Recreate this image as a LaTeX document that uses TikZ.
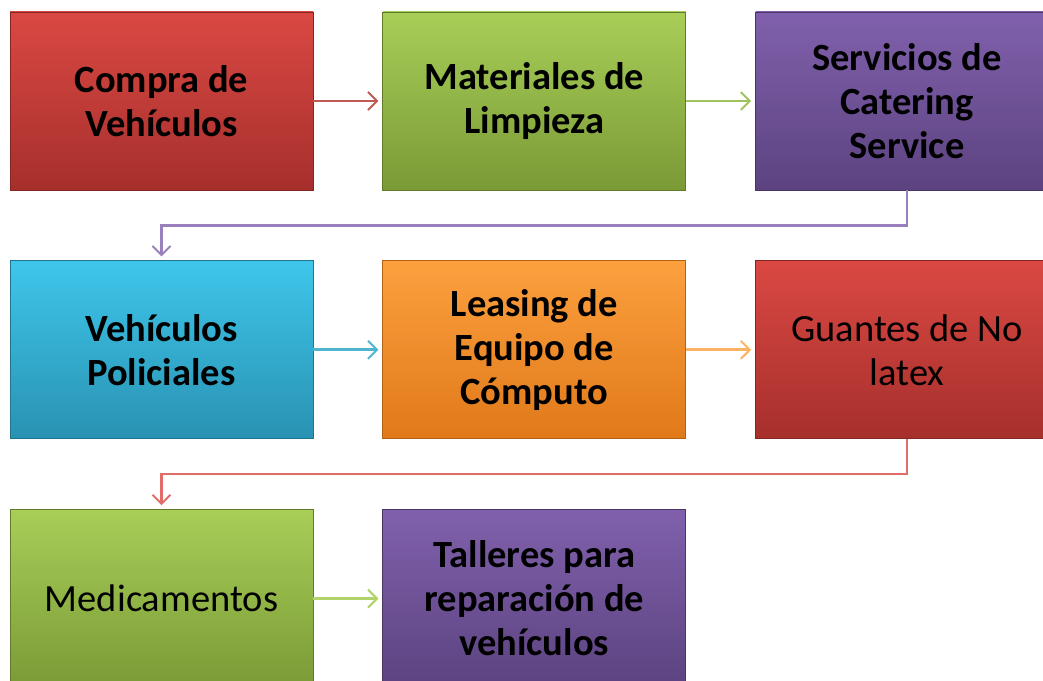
\documentclass[tikz,border=0pt]{standalone}
\usepackage{fontspec}
\setmainfont{Carlito}
\usetikzlibrary{positioning, calc, arrows.meta}
\definecolor{redTop}{HTML}{DA4843}
\definecolor{redBot}{HTML}{A62F2C}
\definecolor{greenTop}{HTML}{A8CE58}
\definecolor{greenBot}{HTML}{7A9A36}
\definecolor{purpleTop}{HTML}{8060AC}
\definecolor{purpleBot}{HTML}{5C4380}
\definecolor{cyanTop}{HTML}{3EC6EA}
\definecolor{cyanBot}{HTML}{2992B2}
\definecolor{orangeTop}{HTML}{FCA03E}
\definecolor{orangeBot}{HTML}{E0791A}
\tikzset{
    stage/.style={minimum width=303pt, minimum height=178pt, text width=285pt, align=flush center,
        inner sep=0pt, font=\fontsize{38.5}{44}\selectfont, text=black,
        top color=#1Top, bottom color=#1Bot, draw=#1Bot!80!black, line width=0.8pt},
    stage/.default=red,
    link/.style={draw=#1, line width=2.6pt, -{Straight Barb[length=9pt, width=18pt, line width=2pt]}, shorten >=4pt},
    link/.default=red
}

\begin{document}
\begin{tikzpicture}[x=1pt, y=1pt]
        \useasboundingbox (0,0) rectangle (1043,680);
        \clip (0,0) rectangle (1043,680);
        %Row 1
        \node[stage=red] (compra) at (161.5,579) {\bfseries Compra de\\Vehículos};
        \node[stage=green, right=69pt of compra] (limpieza) {\bfseries Materiales de\\Limpieza};
        \node[stage=purple, right=69pt of limpieza] (catering) {\bfseries Servicios de\\Catering\\Service};
        %Row 2
        \node[stage=cyan, below=70pt of compra] (policiales) {\bfseries Vehículos\\Policiales};
        \node[stage=orange, right=69pt of policiales] (leasing) {\bfseries Leasing de\\Equipo de\\Cómputo};
        \node[stage=red, right=69pt of leasing] (guantes) {Guantes de No\\latex};
        %Row 3
        \node[stage=green, below=70pt of policiales] (medic) {Medicamentos};
        \node[stage=purple, right=69pt of medic] (talleres) {\bfseries Talleres para\\reparación de\\vehículos};
        %Arrows (left-right, top-down)
        \draw[link=redTop!70!gray] (compra) -- (limpieza);
        \draw[link=greenTop!85!gray] (limpieza) -- (catering);
        \draw[link=purpleTop!80] (catering.south) -- ++(0,-35) -| (policiales.north);
        \draw[link=cyanTop!75!gray] (policiales) -- (leasing);
        \draw[link=orangeTop!80] (leasing) -- (guantes);
        \draw[link=redTop!80] (guantes.south) -- ++(0,-35) -| (medic.north);
        \draw[link=greenTop!90] (medic) -- (talleres);
    \end{tikzpicture}
\end{document}
